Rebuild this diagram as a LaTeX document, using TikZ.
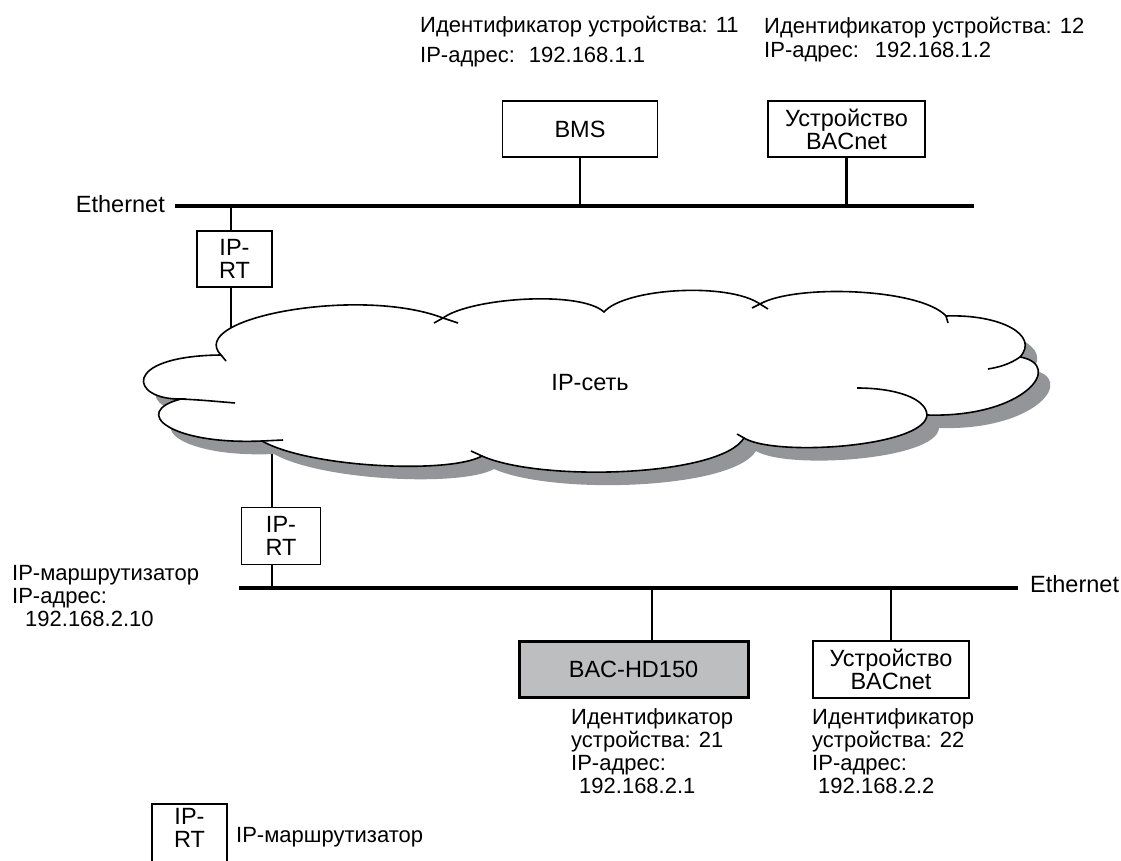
\documentclass[tikz,border=0pt]{standalone}
\usepackage{fontspec}
\setmainfont{Liberation Sans}
\usepackage{tikz}
\usetikzlibrary{positioning,calc}
\definecolor{netShade}{HTML}{939598}
\definecolor{hdFill}{HTML}{BCBEC0}
\newcommand{\dfont}{\fontsize{22}{23}\selectfont}
\newcommand{\bfnt}{\fontsize{23.5}{23}\selectfont}
% outline of the IP cloud (pixel units, y downwards)
\newcommand{\cloudoutline}{%
  (221,355) .. controls (185,318) and (360,286) .. (443,318)
  .. controls (470,298) and (580,290) .. (604,312)
  .. controls (625,288) and (728,282) .. (760,304)
  .. controls (795,284) and (920,288) .. (946,316)
  .. controls (1000,314) and (1040,335) .. (1020,357)
  .. controls (1065,365) and (1025,418) .. (927,415)
  .. controls (925,447) and (775,457) .. (744,438)
  .. controls (720,477) and (540,482) .. (482,456)
  .. controls (450,474) and (310,468) .. (262,441)
  .. controls (170,445) and (130,412) .. (181,399)
  .. controls (130,400) and (120,356) .. (221,355) -- cycle}

\begin{document}
\begin{tikzpicture}[
    x=1pt, y=-1pt,
    box/.style={draw, line width=1.9pt, inner sep=0pt, align=center, font=\bfnt, minimum height=56},
    rt/.style={box, minimum width=75},
    bus/.style={line width=3.2pt},
    tap/.style={line width=2.5pt},
    lbl/.style={inner sep=0pt, align=left, font=\dfont},
    puff/.style={line width=1.6pt},
]
\useasboundingbox (0,0) rectangle (1121,861);

% ===== TOP SEGMENT: BMS and BACnet device on Ethernet =====

\node[lbl, anchor=base west] (idBMS) at (420,33) {Идентификатор устройства: 11};
\node[lbl, anchor=base west] (ipBMS) at (420,63) {IP-адрес:\hspace{14pt}192.168.1.1};
\node[lbl, anchor=base west] (idDevA) at (764,34) {Идентификатор устройства: 12};
\node[lbl, anchor=base west] (ipDevA) at (764,58) {IP-адрес:\hspace{16pt}192.168.1.2};

\node[box, minimum width=155] (bms) at (580,129) {BMS};
\node[box, minimum width=157] (devA) at (846.5,129) {Устройство\\BACnet};

% Ethernet bus
\coordinate (busAw) at (175,206);
\coordinate (busAe) at (974,206);
\draw[bus] (busAw) -- (busAe);
\node[lbl, font=\bfnt, anchor=base east] (ethA) at (165,212) {Ethernet};
\draw[tap] (bms.south) -- (bms.south |- busAw);
\draw[tap] (devA.south) -- (devA.south |- busAw);

% IP router to the cloud
\node[rt] (rtA) at (234.5,259) {IP-\\RT};
\coordinate (cloudTop) at (231,345);
\draw[tap] (cloudTop |- busAw) -- (cloudTop |- rtA.north);
\draw[tap] (cloudTop |- rtA.south) -- (cloudTop);

% ===== BOTTOM SEGMENT =====

\coordinate (cloudBot) at (272,440);
\node[rt, minimum width=79, minimum height=57] (rtB) at (281,536) {IP-\\RT};
\draw[tap] (cloudBot) -- (cloudBot |- rtB.north);

\coordinate (busBw) at (239,588);
\coordinate (busBe) at (1018,588);
\draw[bus] (busBw) -- (busBe);
\draw[tap] (cloudBot |- rtB.south) -- (cloudBot |- busBw);
\node[lbl, font=\bfnt, anchor=base west] (ethB) at (1030,592) {Ethernet};

\node[lbl, anchor=north west] (rtAddr) at (12,565)
    {IP-маршрутизатор\\IP-адрес:\\\hspace*{13pt}192.168.2.10};

% BAC-HD150 and second BACnet device
\node[box, minimum width=229, fill=hdFill, line width=3pt] (hd) at (633.5,669) {BAC-HD150};
\coordinate (hdTap) at (652,588);
\draw[tap] (hdTap) -- (hdTap |- hd.north);
\node[box, minimum width=156, minimum height=57] (devB) at (891,669.5) {Устройство\\BACnet};
\draw[tap] (devB.north) -- (devB.north |- busBw);

\node[lbl, anchor=north west] (idHD) at (571,708)
    {Идентификатор\\устройства: 21\\IP-адрес:\\\hspace*{8pt}192.168.2.1};
\node[lbl, anchor=north west] (idDevB) at (812,708)
    {Идентификатор\\устройства: 22\\IP-адрес:\\\hspace*{6pt}192.168.2.2};

% ===== CLOUD: IP network =====

\fill[netShade, shift={(12,13)}] \cloudoutline;
\filldraw[puff, fill=white] \cloudoutline;
% inner ends of the puffs
\draw[puff] (221,355) -- (226,361);
\draw[puff] (443,318) .. controls (450,320) .. (458,323);
\draw[puff] (443,318) -- (434,323);
\draw[puff] (760,304) -- (768,309);
\draw[puff] (760,304) -- (752,308);
\draw[puff] (946,316) -- (948,323);
\draw[puff] (1020,357) .. controls (1010,364) and (1000,367) .. (988,369);
\draw[puff] (927,415) .. controls (926,398) and (895,388) .. (857,388);
\draw[puff] (744,438) -- (737,434);
\draw[puff] (482,456) -- (471,451);
\draw[puff] (262,441) -- (283,440);
\draw[puff] (181,399) .. controls (200,400) .. (235,403);
\node[lbl, font=\bfnt] (net) at (590,383) {IP-сеть};

% ===== LEGEND =====
\node[rt, minimum height=64, anchor=north] (rtKey) at (189.5,803) {};
\node[lbl, font=\bfnt, align=center] (rtKeyTxt) at (189.5,828) {IP-\\RT};
\node[lbl, anchor=base west] (keyTxt) at (236,842) {IP-маршрутизатор};

\end{tikzpicture}
\end{document}
